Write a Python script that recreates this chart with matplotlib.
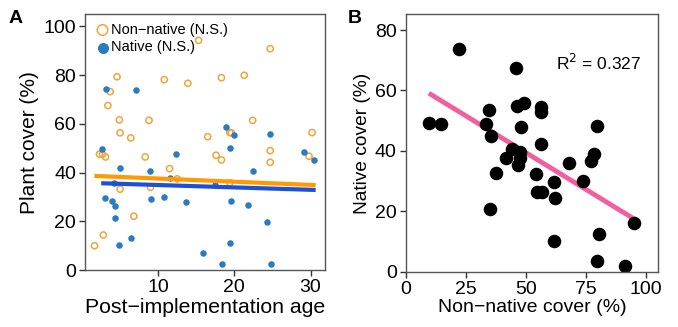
import numpy as np
import matplotlib.pyplot as plt

plt.rcParams['font.family'] = ['Liberation Sans', 'DejaVu Sans']

# panel A: post-implementation age vs cover
nonnative_age = [1.65, 2.8, 2.3, 2.7, 3.1, 3.4, 3.7, 4.6, 4.9, 5.0, 5.0, 6.4, 6.8, 8.3, 8.8, 9.0,
                 10.8, 11.5, 12.5, 13.9, 15.3, 16.5, 17.6, 18.3, 18.3, 19.4, 19.6, 19.4,
                 21.3, 22.4, 24.7, 24.7, 24.7, 29.8, 30.2]
nonnative_cover = [10.0, 14.4, 47.5, 47.5, 46.4, 67.5, 73.2, 79.3, 61.6, 56.3, 33.2, 54.2, 22.1, 46.4, 61.4, 34.0,
                   78.1, 41.6, 37.4, 76.6, 94.2, 54.7, 47.1, 45.2, 78.9, 56.4, 56.3, 35.8,
                   79.9, 61.4, 90.8, 49.0, 44.2, 46.7, 56.4]
native_age = [2.6, 3.2, 3.0, 4.2, 3.9, 4.4, 4.4, 5.0, 4.9, 6.5, 7.1, 8.9, 9.0, 10.7, 11.5, 12.4,
              13.7, 15.9, 17.4, 18.4, 18.9, 19.4, 19.4, 19.5, 20.0, 21.8, 22.4, 24.3, 24.7, 24.8,
              29.2, 30.5]
native_cover = [49.6, 74.4, 29.7, 35.9, 28.5, 26.4, 21.2, 41.9, 10.1, 13.2, 73.7, 40.5, 29.3, 30.1, 37.8, 47.8,
                27.8, 7.0, 34.9, 2.7, 58.8, 50.0, 11.1, 28.4, 55.3, 26.8, 40.7, 19.9, 55.8, 2.7,
                48.4, 45.3]
# fitted lines (intercept, slope)
nonnative_fit = (38.85, -0.13)
native_fit = (35.87, -0.098)

# panel B: non-native vs native cover
b_nonnative = [9.8, 14.5, 22.2, 33.2, 34.5, 35.6, 35.2, 37.4, 41.7, 44.2, 46.0, 46.4, 49.3, 47.9,
               47.5, 47.5, 46.7, 56.4, 56.4, 56.4, 54.3, 54.6, 56.6, 61.8, 62.0, 61.8, 67.7,
               73.5, 76.9, 78.3, 79.5, 80.3, 79.4, 91.3, 94.7]
b_native = [49.3, 49.0, 73.8, 49.0, 53.5, 45.0, 20.9, 32.6, 37.7, 40.6, 67.3, 54.9, 55.8, 47.8,
            39.8, 37.5, 35.3, 54.4, 52.8, 42.3, 32.5, 26.4, 26.4, 29.7, 24.5, 10.2, 35.9,
            30.2, 36.6, 39.1, 48.1, 12.4, 3.5, 1.9, 16.1]
b_fit = (63.8, -0.488)
r2 = 0.327

fig = plt.figure(figsize=(6.78, 3.27), dpi=100)
ax1 = fig.add_axes([0.1254, 0.174, 0.354, 0.783])
ax2 = fig.add_axes([0.5984, 0.169, 0.3726, 0.788])

frame = '#555555'
for ax in (ax1, ax2):
    for s in ax.spines.values():
        s.set_color(frame)
        s.set_linewidth(1.0)
    ax.tick_params(direction='out', length=4.5, width=1, color='#333333', labelsize=14, pad=2)

# A
ax1.scatter(nonnative_age, nonnative_cover, s=20, facecolors='none', edgecolors='#F0A43A',
            linewidths=1.1, label='Non\u2212native (N.S.)', zorder=2)
ax1.scatter(native_age, native_cover, s=22, color='#2B7BC2', linewidths=0,
            label='Native (N.S.)', zorder=2)
xa = np.array([min(nonnative_age) + 0.25, max(native_age) - 0.1])
ax1.plot(xa, nonnative_fit[0] + nonnative_fit[1] * xa, color='#FF9A00', lw=3, zorder=3)
xb = np.array([2.8, max(native_age) - 0.1])
ax1.plot(xb, native_fit[0] + native_fit[1] * xb, color='#1F4FD4', lw=3, zorder=3)
ax1.set_xlim(0.4, 31.9)
ax1.set_ylim(0, 105)
ax1.set_xticks([10, 20, 30])
ax1.set_yticks([0, 20, 40, 60, 80, 100])
ax1.set_xlabel('Post\u2212implementation age', fontsize=15.3, labelpad=1)
ax1.set_ylabel('Plant cover (%)', fontsize=15, labelpad=3)
leg = ax1.legend(loc='upper left', frameon=False, fontsize=10.5, handletextpad=0.0,
                 borderaxespad=0.2, labelspacing=0.25, markerscale=1.7, handlelength=1.2)
fig.text(0.012, 0.93, 'A', fontsize=14, fontweight='bold')

# B
ax2.scatter(b_nonnative, b_native, s=95, color='black', linewidths=0, zorder=2)
xf = np.array([10.5, 94.6])
ax2.plot(xf, b_fit[0] + b_fit[1] * xf, color='#F0609E', lw=3.5, zorder=1)
ax2.set_xlim(0, 105)
ax2.set_ylim(0, 85.3)
ax2.set_xticks([0, 25, 50, 75, 100])
ax2.set_yticks([0, 20, 40, 60, 80])
ax2.set_xlabel('Non\u2212native cover (%)', fontsize=14, labelpad=1)
ax2.set_ylabel('Native cover (%)', fontsize=13.8, labelpad=3)
ax2.text(62.5, 69, 'R$^2$ = %.3f' % r2, fontsize=12.5, va='center')
fig.text(0.513, 0.93, 'B', fontsize=14, fontweight='bold')

fig.savefig('out.png', dpi=100)
